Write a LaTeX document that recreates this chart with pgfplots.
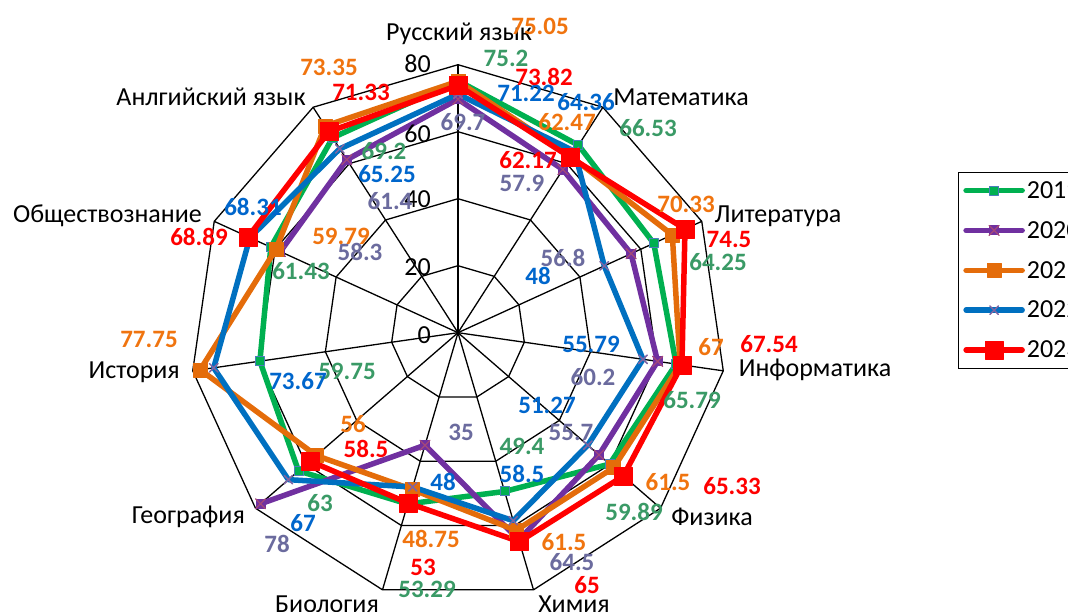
\documentclass[border=0pt]{standalone}
\usepackage{fontspec}
\setmainfont{Carlito}
\usepackage{pgfplots}
\usepgfplotslibrary{polar}
\usepackage{pgfplotstable}
\pgfplotsset{compat=1.18}

\definecolor{cg}{HTML}{00B050}
\definecolor{cp}{HTML}{7030A0}
\definecolor{co}{HTML}{E46C0A}
\definecolor{cb}{HTML}{0070C0}
\definecolor{cr}{HTML}{FF0000}
\definecolor{lg}{HTML}{3A9A66}
\definecolor{lp}{HTML}{6B6B9E}
\definecolor{lo}{HTML}{F0740F}
\definecolor{lb}{HTML}{0066CC}
\definecolor{mx}{HTML}{8064A2}
\definecolor{xr}{HTML}{A54878}
\definecolor{mb}{HTML}{4A7EBB}

\pgfdeclareplotmark{sqx}{%
  \pgfpathrectangle{\pgfpoint{-\pgfplotmarksize}{-\pgfplotmarksize}}{\pgfpoint{2\pgfplotmarksize}{2\pgfplotmarksize}}%
  \pgfusepathqfill
  \pgfsetstrokecolor{xr}\pgfsetlinewidth{1.2pt}%
  \pgfpathmoveto{\pgfpoint{-\pgfplotmarksize}{-\pgfplotmarksize}}\pgfpathlineto{\pgfpoint{\pgfplotmarksize}{\pgfplotmarksize}}%
  \pgfpathmoveto{\pgfpoint{-\pgfplotmarksize}{\pgfplotmarksize}}\pgfpathlineto{\pgfpoint{\pgfplotmarksize}{-\pgfplotmarksize}}%
  \pgfusepathqstroke}

% i: 0 Russian, 1 Math, 2 Literature, 3 Informatics, 4 Physics, 5 Chemistry,
% 6 Biology, 7 Geography, 8 History, 9 Social studies, 10 English, 11 = 0
\pgfplotstableread{
i  y19   y20  y21   y22   y23
0  75.2  69.7 75.05 71.22 73.82
1  66.53 57.9 62.47 64.36 62.17
2  64.25 56.8 70.33 48    74.5
3  65.79 60.2 67    55.79 67.54
4  59.89 55.7 61.5  51.27 65.33
5  49.4  64.5 61.5  58.5  65
6  53.29 35   48.75 48    53
7  63    78   56    67    58.5
8  59.75 nan  77.75 73.67 nan
9  61.43 58.3 59.79 68.31 68.89
10 69.2  61.4 73.35 65.25 71.33
11 75.2  69.7 75.05 71.22 73.82
}\data

\begin{document}
\begin{tikzpicture}[x=1pt,y=1pt]
\path[use as bounding box] (0pt,0pt) rectangle (1068pt,612pt);
\begin{polaraxis}[
  at={(458pt,279.3pt)}, anchor=center,
  scale only axis, width=536pt, height=536pt,
  ymin=0, ymax=80, xmin=0, xmax=360,
  hide axis, clip=false,
  unbounded coords=jump,
  legend image code/.code={\draw[mark repeat=2,mark phase=2,#1] plot coordinates {(0pt,0pt)(28pt,0pt)(56pt,0pt)};},
  legend style={at={(1.4328,0.7998)}, anchor=north west, draw=black, line width=0.8pt,
    font=\fontsize{26}{30}\selectfont, row sep=17.5pt, inner xsep=5pt, inner ysep=7pt,
    cells={anchor=west}},
  gl/.style={black, line width=1.3pt, forget plot, mark=none},
  ser/.style={line width=5.5pt, line join=round, line cap=round},
]
\pgfplotsinvokeforeach{20,40,60,80}{
  \addplot[gl] coordinates {(90,#1)(57.2727,#1)(24.5455,#1)(-8.1818,#1)(-40.9091,#1)(-73.6364,#1)(-106.3636,#1)(-139.0909,#1)(-171.8182,#1)(-204.5455,#1)(-237.2727,#1)(-270,#1)};
}
\pgfplotsinvokeforeach{90,57.2727,24.5455,-8.1818,-40.9091,-73.6364,-106.3636,-139.0909,-171.8182,-204.5455,-237.2727}{
  \addplot[gl] coordinates {(#1,0)(#1,80)};
}
\addplot[ser, cg, mark=square*, mark size=4.5pt, mark options={fill=cg, draw=mb, line width=1pt}]
  table[x expr={90-\thisrow{i}*360/11}, y=y19]{\data};
\addlegendentry{2019}
\addplot[ser, cp, mark=sqx, mark size=5pt, mark options={fill=cp}]
  table[x expr={90-\thisrow{i}*360/11}, y=y20]{\data};
\addlegendentry{2020}
\addplot[ser, co, mark=square*, mark size=7pt, mark options={fill=co, draw=co, line width=0.5pt}]
  table[x expr={90-\thisrow{i}*360/11}, y=y21]{\data};
\addlegendentry{2021}
\addplot[ser, cb, mark=x, mark size=6pt, mark options={draw=mx, line width=1.5pt}]
  table[x expr={90-\thisrow{i}*360/11}, y=y22]{\data};
\addlegendentry{2022}
\addplot[ser, cr, mark=square*, mark size=9pt, mark options={fill=cr, draw=cr, line width=0.5pt}]
  table[x expr={90-\thisrow{i}*360/11}, y=y23]{\data};
\addlegendentry{2023}
\end{polaraxis}

\begin{scope}[shift={(0pt,612pt)}, yscale=-1,
  cat/.style={inner sep=0pt, font=\fontsize{26}{26}\selectfont},
  tk/.style={inner sep=0pt, anchor=east, font=\fontsize{26}{26}\selectfont},
  dl/.style={inner sep=0pt, font=\bfseries\fontsize{25}{25}\selectfont}]
% category labels
\node[cat] at (459,34) {Русский язык};
\node[cat] at (681,97) {Математика};
\node[cat] at (778,216) {Литература};
\node[cat] at (815,370) {Информатика};
\node[cat] at (712,517) {Физика};
\node[cat] at (574,604) {Химия};
\node[cat] at (327,604) {Биология};
\node[cat, anchor=east] at (245,517) {География};
\node[cat, anchor=east] at (180,372) {История};
\node[cat, anchor=east] at (202,216) {Обществознание};
\node[cat] at (211,97) {Анлгийский язык};
% radial ticks
\node[tk] at (431,64) {80};
\node[tk] at (431,134) {60};
\node[tk] at (431,199) {40};
\node[tk] at (431,267) {20};
\node[tk] at (431,335) {0};
% 2019
\node[dl, lg] at (506,58) {75.2};
\node[dl, lg] at (648,128) {66.53};
\node[dl, lg] at (718,262) {64.25};
\node[dl, lg] at (692,400) {65.79};
\node[dl, lg] at (634,512) {59.89};
\node[dl, lg] at (522,446) {49.4};
\node[dl, lg] at (427,589) {53.29};
\node[dl, lg] at (320,503) {63};
\node[dl, lg] at (347,371) {59.75};
\node[dl, lg] at (301,271) {61.43};
\node[dl, lg] at (384,151) {69.2};
% 2020
\node[dl, lp] at (463,122) {69.7};
\node[dl, lp] at (522,183) {57.9};
\node[dl, lp] at (563,258) {56.8};
\node[dl, lp] at (593,377) {60.2};
\node[dl, lp] at (571,432) {55.7};
\node[dl, lp] at (572,562) {64.5};
\node[dl, lp] at (461,432) {35};
\node[dl, lp] at (277,544) {78};
\node[dl, lp] at (360,252) {58.3};
\node[dl, lp] at (390,201) {61.4};
% 2021
\node[dl, lo] at (540,26) {75.05};
\node[dl, lo] at (567,122) {62.47};
\node[dl, lo] at (686,204) {70.33};
\node[dl, lo] at (711,347) {67};
\node[dl, lo] at (668,482) {61.5};
\node[dl, lo] at (564,542) {61.5};
\node[dl, lo] at (431,539) {48.75};
\node[dl, lo] at (353,424) {56};
\node[dl, lo] at (149,339) {77.75};
\node[dl, lo] at (341,236) {59.79};
\node[dl, lo] at (329,67) {73.35};
% 2022
\node[dl, lb] at (526,93) {71.22};
\node[dl, lb] at (586,102) {64.36};
\node[dl, lb] at (538,276) {48};
\node[dl, lb] at (591,344) {55.79};
\node[dl, lb] at (547,405) {51.27};
\node[dl, lb] at (522,474) {58.5};
\node[dl, lb] at (443,482) {48};
\node[dl, lb] at (303,523) {67};
\node[dl, lb] at (298,381) {73.67};
\node[dl, lb] at (253,207) {68.31};
\node[dl, lb] at (387,174) {65.25};
% 2023
\node[dl, cr] at (544,77) {73.82};
\node[dl, cr] at (528,160) {62.17};
\node[dl, cr] at (729,239) {74.5};
\node[dl, cr] at (769,344) {67.54};
\node[dl, cr] at (732,486) {65.33};
\node[dl, cr] at (587,585) {65};
\node[dl, cr] at (423,567) {53};
\node[dl, cr] at (366,449) {58.5};
\node[dl, cr] at (199,237) {68.89};
\node[dl, cr] at (361,92) {71.33};
\end{scope}
\end{tikzpicture}
\end{document}
